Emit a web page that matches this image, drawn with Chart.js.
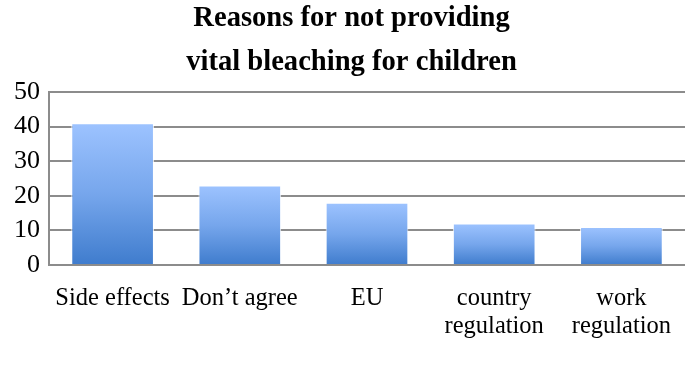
<!DOCTYPE html>
<html>
<head>
<meta charset="utf-8">
<script src="https://cdn.jsdelivr.net/npm/chart.js@4/dist/chart.umd.min.js"></script>
<style>
  html, body { margin: 0; padding: 0; background: #fff; }
  #wrap { width: 685px; height: 391px; }
</style>
</head>
<body>
<div id="wrap"><canvas id="reasons-chart"></canvas></div>
<script>
// categories + values
let reasons = ['Side effects', 'Don\u2019t agree', 'EU', ['country', 'regulation'], ['work', 'regulation']]
let counts = [41, 23, 18, 12, 11]
let yTicks = [0, 10, 20, 30, 40, 50]
let titleLines = ['Reasons for not providing', 'vital bleaching for children']

let serif = '"Liberation Serif", "DejaVu Serif", serif'

// light blue at the top of each bar, darker at its base
function barGradient(ctx) {
  let chart = ctx.chart
  let ys = chart.scales.y
  if (!ys || ctx.raw === undefined) return '#6fa0e8'
  let top = ys.getPixelForValue(ctx.raw)
  let bottom = ys.getPixelForValue(0)
  if (!isFinite(top) || !isFinite(bottom) || top === bottom) return '#6fa0e8'
  let g = chart.ctx.createLinearGradient(0, top, 0, bottom)
  g.addColorStop(0, '#9dc3ff')
  g.addColorStop(0.5, '#76a6ec')
  g.addColorStop(1, '#3f7ccd')
  return g
}

// title sits a bit right of the canvas centre in the original
let nudgeTitle = {
  id: 'nudgeTitle',
  afterLayout: function(chart) {
    if (chart.titleBlock) chart.titleBlock.left += 18
  }
}

new Chart(document.getElementById('reasons-chart'), {
  type: 'bar',
  data: {
    labels: reasons,
    datasets: [{
      data: counts,
      backgroundColor: barGradient,
      borderColor: 'rgba(255,255,255,0.85)',
      borderWidth: 1,
      categoryPercentage: 0.65,
      barPercentage: 1
    }]
  },
  options: {
    responsive: true,
    maintainAspectRatio: false,
    animation: false,
    layout: { padding: 0 },
    plugins: {
      legend: { display: false },
      tooltip: { enabled: false },
      title: {
        display: true,
        text: titleLines,
        color: '#000',
        font: { family: serif, size: 28.6, weight: 'bold', lineHeight: 1.54 },
        padding: { top: -3, bottom: 7 }
      }
    },
    scales: {
      x: {
        grid: { display: false, drawTicks: false },
        border: { display: false },
        afterFit: function(axis) {
          axis.height = 126
          // plot runs right to the canvas edge
          axis.paddingLeft = 0
          axis.paddingRight = 0
        },
        ticks: {
          color: '#000',
          font: { family: serif, size: 24.5, lineHeight: 1.14 },
          padding: 20,
          maxRotation: 0,
          autoSkip: false
        }
      },
      y: {
        min: 0,
        max: 50,
        afterBuildTicks: function(axis) {
          axis.ticks = yTicks.map(v => ({ value: v }))
        },
        afterFit: function(axis) { axis.width = 49 },
        grid: { color: '#8c8c8c', lineWidth: 2, drawTicks: false },
        border: { display: true, color: '#8c8c8c', width: 2 },
        ticks: {
          color: '#000',
          font: { family: serif, size: 26 },
          padding: 9,
          autoSkip: false
        }
      }
    }
  },
  plugins: [nudgeTitle]
})
</script>
</body>
</html>
